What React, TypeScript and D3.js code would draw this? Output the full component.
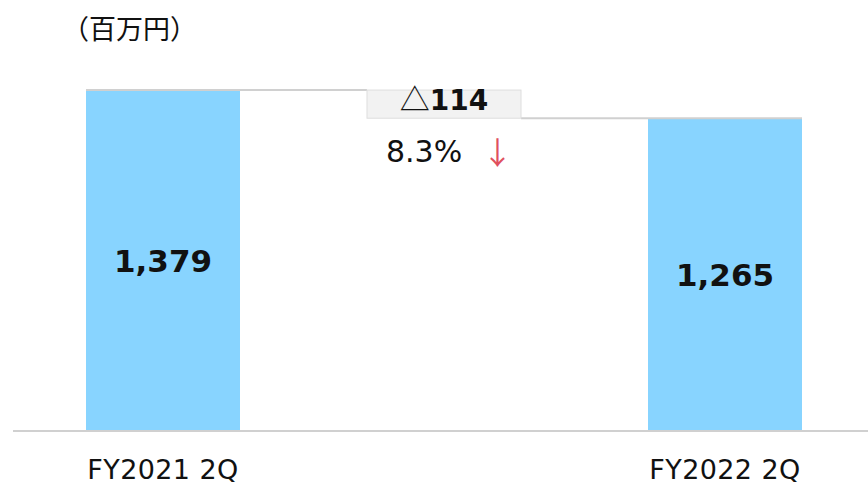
import * as d3 from "d3";

const categories = ["FY2021 2Q", "FY2022 2Q"];
const values = [1379, 1265];
const valueLabels = ["1,379", "1,265"];
const deltaLabel = "114";
const pctLabel = "8.3%";
const unitLabel = "（百万円）";

const W = 868;
const H = 486;
const BAR = "#88d4ff";
const LINE = "#d0d0d0";
const FONT = "'DejaVu Sans', Verdana, sans-serif";
const JP = "'Noto Sans CJK JP', sans-serif";

export default function App() {
  // three slots: first bar, the change box, second bar
  const slots = [categories[0], "delta", categories[1]];
  const x = d3.scalePoint<string>().domain(slots).range([163, 725]);
  const y = d3.scaleLinear().domain([0, 1600]).range([431, 35.4]);
  const bw = 154;

  const y0 = y(values[0]);
  const y1 = y(values[1]);
  const dx = x("delta")!;

  return (
    <svg
      width={W}
      height={H}
      style={{ position: "absolute", left: 0, top: 0, background: "#fff" }}
    >
      <text x={62} y={39} fontSize={27} fontFamily={JP} fill="#111">
        {unitLabel}
      </text>

      {/* bars */}
      {categories.map((c, i) => (
        <g key={c}>
          <rect
            x={x(c)! - bw / 2}
            y={y(values[i])}
            width={bw}
            height={y(0) - y(values[i])}
            fill={BAR}
          />
          <text
            x={x(c)!}
            y={(y(values[i]) + y(0)) / 2}
            dy="0.36em"
            textAnchor="middle"
            fontSize={31}
            fontWeight="bold"
            fontFamily={FONT}
            fill="#111"
          >
            {valueLabels[i]}
          </text>
          <text
            x={x(c)!}
            y={479}
            textAnchor="middle"
            fontSize={27}
            fontFamily={FONT}
            fill="#111"
            letterSpacing={0.4}
          >
            {c}
          </text>
        </g>
      ))}

      {/* connector lines */}
      <line
        x1={x(categories[0])! - bw / 2}
        x2={dx - bw / 2}
        y1={y0}
        y2={y0}
        stroke={LINE}
        strokeWidth={2}
      />
      <line
        x1={dx + bw / 2}
        x2={x(categories[1])! + bw / 2}
        y1={y1}
        y2={y1}
        stroke={LINE}
        strokeWidth={2}
      />

      {/* change box */}
      <rect
        x={dx - bw / 2}
        y={y0}
        width={bw}
        height={y1 - y0}
        fill="#f2f2f2"
        stroke="#dedede"
        strokeWidth={1}
      />
      <text
        x={dx}
        y={(y0 + y1) / 2}
        dy="0.36em"
        textAnchor="middle"
        fill="#111"
      >
        <tspan fontFamily={JP} fontSize={30}>△</tspan>
        <tspan fontFamily={FONT} fontSize={28} fontWeight="bold">
          {deltaLabel}
        </tspan>
      </text>
      <text x={386} y={162} fontSize={30} fontFamily={FONT} fill="#111">
        {pctLabel}
      </text>
      <text x={482} y={164} fontSize={31} fontFamily={JP} fill="#e0505e">
        ↓
      </text>

      {/* axis */}
      <line
        x1={13}
        x2={W}
        y1={y(0)}
        y2={y(0)}
        stroke={LINE}
        strokeWidth={2}
      />
    </svg>
  );
}
